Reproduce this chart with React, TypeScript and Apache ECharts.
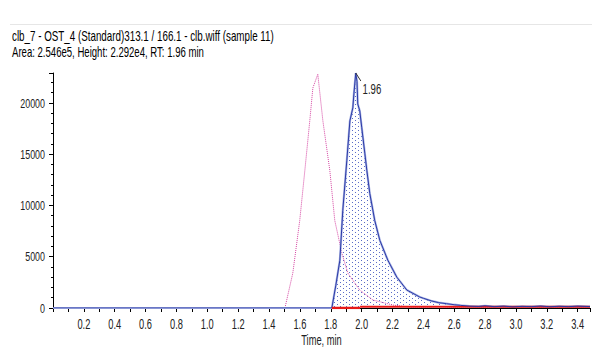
import React, { useEffect, useRef } from "react";
import * as echarts from "echarts";

const titleLine1 = "clb_7 - OST_4 (Standard)313.1 / 166.1 - clb.wiff (sample 11)";
const titleLine2 = "Area: 2.546e5, Height: 2.292e4, RT: 1.96 min";
const xAxisName = "Time, min";
const peakLabel = "1.96";
const peakPoint = [1.962, 22920];

// Analyte trace (blue, solid)
const blueTimes = [0, 1.807, 1.833, 1.859, 1.878, 1.904, 1.924, 1.943, 1.95, 1.962, 1.97, 1.975, 1.988, 2.001, 2.021, 2.034, 2.053, 2.085, 2.118, 2.17, 2.228, 2.293, 2.377, 2.4, 2.45, 2.5, 2.55, 2.6, 2.64, 2.7, 2.76, 2.8, 2.86, 2.92, 2.98, 3.04, 3.1, 3.16, 3.22, 3.28, 3.34, 3.4, 3.48];
const blueValues = [0, 0, 2230, 4660, 9520, 14370, 18250, 19520, 20880, 22920, 22100, 19900, 19230, 17580, 15050, 13400, 11170, 8540, 6600, 4660, 3010, 1750, 1070, 950, 700, 520, 420, 320, 260, 180, 150, 220, 130, 180, 110, 160, 130, 190, 120, 170, 130, 180, 140];

// Reference trace (magenta, dotted)
const pinkTimes = [0, 1.503, 1.554, 1.599, 1.632, 1.664, 1.684, 1.716, 1.749, 1.794, 1.826, 1.872, 1.911, 1.988, 2.073, 2.202, 2.31, 2.4, 2.5, 2.6, 2.7, 2.8, 2.9, 3.0, 3.1, 3.2, 3.3, 3.4, 3.48];
const pinkValues = [0, 0, 3400, 8540, 13400, 18250, 21460, 22800, 18250, 13400, 8540, 5340, 3400, 1750, 780, 290, 100, 80, 150, 60, 120, 70, 110, 60, 100, 50, 90, 60, 80];

// Integration baseline (red)
const baseTimes1 = [1.807, 1.99];
const baseValues1 = [0, 0];
const baseTimes2 = [1.99, 3.48];
const baseValues2 = [120, 120];

const areaStart = 1.807;
const areaEnd = 2.62;

const xTickValues = [0.2, 0.4, 0.6, 0.8, 1.0, 1.2, 1.4, 1.6, 1.8, 2.0, 2.2, 2.4, 2.6, 2.8, 3.0, 3.2, 3.4];
const yTickValues = [0, 5000, 10000, 15000, 20000];

const FONT = "'Liberation Sans', Arial, sans-serif";

function zip(a: number[], b: number[]) {
  return a.map((t, i) => [t, b[i]]);
}

function measure(text: string, font: string) {
  const c = document.createElement("canvas").getContext("2d")!;
  c.font = font;
  return c.measureText(text).width;
}

export default function App() {
  const ref = useRef<HTMLDivElement>(null);
  useEffect(() => {
    if (!ref.current) return;
    const chart = echarts.init(ref.current, undefined, { renderer: "svg" });

    const cv = document.createElement("canvas");
    cv.width = 6;
    cv.height = 4;
    const ctx = cv.getContext("2d")!;
    ctx.fillStyle = "#ffffff";
    ctx.fillRect(0, 0, 6, 4);
    ctx.fillStyle = "#5a6cc8";
    ctx.fillRect(1, 0, 1, 1);
    ctx.fillRect(4, 2, 1, 1);

    const blueData = zip(blueTimes, blueValues);
    const areaData = blueData.filter((p) => p[0] >= areaStart && p[0] <= areaEnd);

    chart.setOption({
      animation: false,
      grid: { left: 53, right: 2, top: 73, bottom: 45 },
      xAxis: {
        type: "value",
        min: 0,
        max: 3.48,
        interval: 0.2,
        axisLine: { show: true, lineStyle: { color: "#000", width: 1 } },
        axisTick: { show: true, length: 4, lineStyle: { color: "#000" } },
        minorTick: { show: true, splitNumber: 2, length: 4, lineStyle: { color: "#000" } },
        splitLine: { show: false },
        axisLabel: { show: false },
      },
      yAxis: {
        type: "value",
        min: 0,
        max: 22920,
        interval: 5000,
        axisLine: { show: true, lineStyle: { color: "#000", width: 1 } },
        axisTick: { show: true, length: 4, lineStyle: { color: "#000" } },
        minorTick: { show: true, splitNumber: 5, length: 2, lineStyle: { color: "#000" } },
        splitLine: { show: false },
        axisLabel: { show: false },
      },
      series: [
        {
          type: "line",
          data: zip(pinkTimes, pinkValues),
          symbol: "none",
          lineStyle: { color: "#d545a2", width: 1, type: "dotted" },
          z: 2,
        },
        {
          type: "line",
          data: areaData,
          symbol: "none",
          lineStyle: { width: 0, opacity: 0 },
          areaStyle: { color: { image: cv, repeat: "repeat" }, opacity: 1 },
          z: 1,
        },
        {
          type: "line",
          data: blueData,
          symbol: "none",
          lineStyle: { color: "#aab4e4", width: 2.2 },
          z: 3,
        },
        {
          type: "line",
          data: blueData,
          symbol: "none",
          lineStyle: { color: "#2b3aa6", width: 1 },
          z: 4,
          markLine: {
            symbol: "none",
            silent: true,
            label: { show: false },
            lineStyle: { color: "#333", width: 1, type: "solid" },
            data: [[{ coord: peakPoint }, { coord: [1.995, 22140] }]],
          },
        },
        {
          type: "line",
          data: zip(baseTimes1, baseValues1),
          symbol: "none",
          lineStyle: { color: "#e81818", width: 2.5 },
          z: 5,
        },
        {
          type: "line",
          data: zip(baseTimes2, baseValues2),
          symbol: "none",
          lineStyle: { color: "#e81818", width: 2 },
          z: 3,
        },
      ],
    });

    const px = (v: number) => chart.convertToPixel({ xAxisIndex: 0 }, v) as number;
    const py = (v: number) => chart.convertToPixel({ yAxisIndex: 0 }, v) as number;

    const titleFont = "14px 'Liberation Sans'";
    const s1 = 262 / measure(titleLine1, titleFont);
    const s2 = 192 / measure(titleLine2, titleFont);

    const labelStyle = (text: string, size: number, align: string, vAlign: string) => ({
      text,
      fontFamily: FONT,
      fontSize: size,
      fill: "#222",
      align,
      verticalAlign: vAlign,
    });

    const graphics: any[] = [
      {
        type: "line",
        shape: { x1: 10, y1: 24.5, x2: 592, y2: 24.5 },
        style: { stroke: "#e6e6e6", lineWidth: 1 },
      },
      {
        type: "text",
        x: 12,
        y: 36,
        scaleX: s1,
        style: { text: titleLine1, fontFamily: FONT, fontSize: 14, fill: "#000", verticalAlign: "middle" },
      },
      {
        type: "text",
        x: 12,
        y: 52,
        scaleX: s2,
        style: { text: titleLine2, fontFamily: FONT, fontSize: 14, fill: "#000", verticalAlign: "middle" },
      },
      {
        type: "text",
        x: (px(0) + px(3.48)) / 2,
        y: 340,
        scaleX: 0.62,
        style: labelStyle(xAxisName, 15, "center", "middle"),
      },
      {
        type: "text",
        x: px(2.0) + 1,
        y: py(21300),
        scaleX: 0.64,
        style: labelStyle(peakLabel, 15, "left", "middle"),
      },
    ];
    xTickValues.forEach((v) => {
      graphics.push({
        type: "text",
        x: px(v),
        y: 324,
        scaleX: 0.62,
        style: labelStyle(v.toFixed(1), 15, "center", "middle"),
      });
    });
    yTickValues.forEach((v) => {
      graphics.push({
        type: "text",
        x: 45,
        y: py(v),
        scaleX: 0.66,
        style: labelStyle(String(v), 13.5, "right", "middle"),
      });
    });
    chart.setOption({ graphic: graphics });

    return () => chart.dispose();
  }, []);
  return (
    <div
      ref={ref}
      style={{ position: "fixed", left: 0, top: 0, width: 592, height: 353, background: "#fff" }}
    />
  );
}
